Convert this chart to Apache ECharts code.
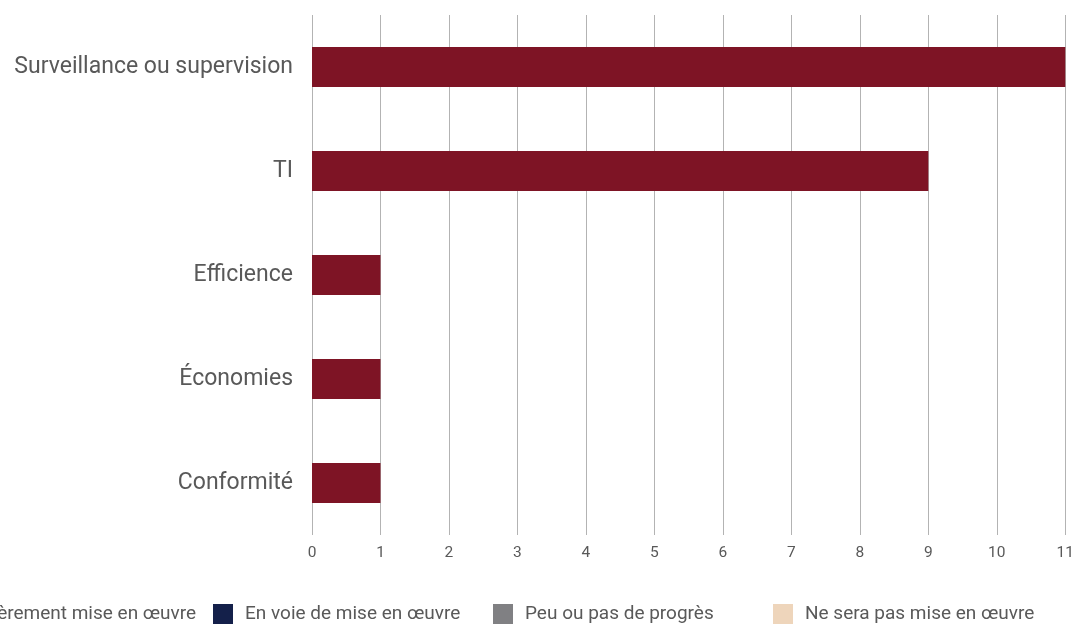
<!DOCTYPE html>
<html>
<head>
<meta charset="utf-8">
<script src="https://cdn.jsdelivr.net/npm/echarts@6/dist/echarts.min.js"></script>
<style>
  html, body { margin: 0; padding: 0; background: #ffffff; }
  #chart { width: 1077px; height: 630px; }
</style>
</head>
<body>
<div id="chart"></div>
<script>
// Categories, listed bottom to top on the vertical axis
const categories = ['Conformité', 'Économies', 'Efficience', 'TI', 'Surveillance ou supervision'];

// Number of recommendations per status
const entierement = [1, 1, 1, 9, 11];
const enVoie = [0, 0, 0, 0, 0];
const peuProgres = [0, 0, 0, 0, 0];
const neSeraPas = [0, 0, 0, 0, 0];

const seriesNames = ['Entièrement mise en œuvre', 'En voie de mise en œuvre', 'Peu ou pas de progrès', 'Ne sera pas mise en œuvre'];
const seriesData = [entierement, enVoie, peuProgres, neSeraPas];
const seriesColors = ['#7e1425', '#14204a', '#808083', '#eed5bb'];

const FONT = 'Roboto';
const TEXT = '#595959';
const LEGEND_START = -67;  // first entry begins off the left edge
const LEGEND_SLOT = 280;   // every legend entry occupies the same width

const chart = echarts.init(document.getElementById('chart'), null, { renderer: 'canvas' });

// one legend component per status so the entries sit on an even pitch
const legends = seriesNames.map((name, i) => ({
  left: LEGEND_START + i * LEGEND_SLOT,
  top: 604,
  padding: 0,
  itemWidth: 20,
  itemHeight: 20,
  icon: 'rect',
  textStyle: { fontFamily: FONT, fontSize: 19, color: TEXT, padding: [0, 0, 0, 7] },
  data: [name]
}));

chart.setOption({
  animation: false,
  backgroundColor: '#ffffff',
  textStyle: { fontFamily: FONT },
  grid: { left: 312, right: 10, top: 15, bottom: 95, containLabel: false },
  legend: legends,
  xAxis: {
    type: 'value',
    min: 0,
    max: 11,
    interval: 1,
    axisLine: { show: false },
    axisTick: { show: false },
    splitLine: { show: true, lineStyle: { color: '#b3b3b3', width: 1 } },
    axisLabel: { fontFamily: FONT, fontSize: 15.5, color: TEXT, margin: 10 }
  },
  yAxis: {
    type: 'category',
    data: categories,
    axisLine: { show: false },
    axisTick: { show: false },
    axisLabel: { fontFamily: FONT, fontSize: 23, color: TEXT, margin: 19 }
  },
  series: seriesNames.map((name, i) => ({
    name: name,
    type: 'bar',
    stack: 'total',
    barWidth: 40,
    itemStyle: { color: seriesColors[i] },
    data: seriesData[i]
  }))
});
</script>
</body>
</html>
